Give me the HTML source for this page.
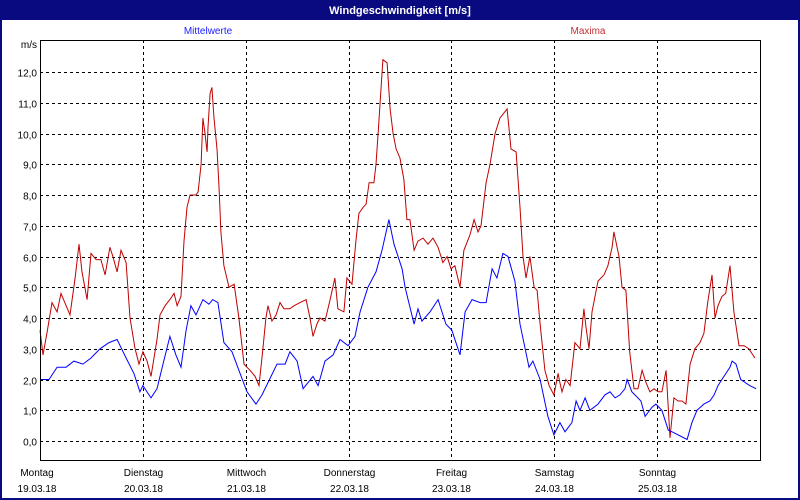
<!DOCTYPE html>
<html><head><meta charset="utf-8"><style>
html,body{margin:0;padding:0;background:#fff;}
svg{display:block;font-family:"Liberation Sans",sans-serif;}
</style></head><body>
<svg width="800" height="500" id="chart">
<rect x="1" y="1" width="798" height="498" fill="#fff" stroke="#0a0a80" stroke-width="2"/>
<rect x="0" y="0" width="800" height="20" fill="#0a0a80"/>
<text x="400" y="14" text-anchor="middle" fill="#fff" font-size="11" font-weight="bold">Windgeschwindigkeit [m/s]</text>
<text x="208" y="34" text-anchor="middle" fill="#2020ff" font-size="10">Mittelwerte</text>
<text x="588" y="34" text-anchor="middle" fill="#c03030" font-size="10">Maxima</text>
<text x="37" y="48" text-anchor="end" fill="#000" font-size="10">m/s</text>
<g id="grid"></g>
<g id="series"></g>
<rect x="40.5" y="40.5" width="720" height="420" fill="none" stroke="#000" stroke-width="1"/>
<g id="labels"></g>
</svg>
<script>
const yTicks=[0,1,2,3,4,5,6,7,8,9,10,11,12];
const dayNames=["Montag","Dienstag","Mittwoch","Donnerstag","Freitag","Samstag","Sonntag"];
const dayDates=["19.03.18","20.03.18","21.03.18","22.03.18","23.03.18","24.03.18","25.03.18"];
const meanHours=[0,2.1,4.0,6.1,7.9,10.0,11.9,14.0,16.1,18.0,20.1,21.9,23.3,24.0,25.9,27.3,28.7,30.3,31.7,32.9,34.1,35.2,36.4,38.0,39.4,40.3,41.5,42.9,44.8,46.4,48.3,50.4,51.8,53.2,55.3,57.2,58.3,60.0,61.4,63.7,64.9,66.5,68.4,70.0,71.9,73.5,74.7,76.5,78.4,79.8,81.4,82.6,84.5,85.2,85.9,87.3,88.2,89.1,91.0,92.9,94.7,96.1,98.0,99.2,100.8,102.7,104.1,105.5,106.6,108.0,109.2,110.8,112.0,114.1,115.0,116.7,118.5,119.9,121.3,122.5,124.1,125.1,126.0,127.2,128.3,130.2,131.8,133.0,134.2,135.3,136.5,137.0,138.1,140.2,141.2,142.8,143.7,145.1,146.6,147.5,151.0,152.1,153.3,154.9,156.3,157.3,158.2,159.1,161.0,161.5,162.4,163.5,165.6,167.1];
const meanValues=[2.0,2.0,2.4,2.4,2.6,2.5,2.7,3.0,3.2,3.3,2.7,2.2,1.6,1.8,1.4,1.7,2.5,3.4,2.8,2.4,3.6,4.4,4.1,4.6,4.45,4.6,4.5,3.2,2.9,2.3,1.6,1.2,1.5,1.9,2.5,2.5,2.9,2.6,1.7,2.1,1.8,2.6,2.8,3.3,3.1,3.4,4.2,5.0,5.5,6.2,7.2,6.4,5.6,5.0,4.6,3.8,4.3,3.9,4.2,4.6,3.8,3.6,2.8,4.2,4.6,4.5,4.5,5.6,5.3,6.1,6.0,5.2,3.8,2.4,2.6,2.0,0.8,0.2,0.6,0.3,0.6,1.3,1.0,1.4,1.0,1.2,1.5,1.6,1.4,1.5,1.7,2.0,1.6,1.3,0.8,1.1,1.2,1.0,0.35,0.3,0.05,0.6,1.0,1.2,1.3,1.5,1.8,2.0,2.4,2.6,2.5,2.0,1.8,1.7];
const maxHours=[0,0.7,1.6,2.8,4.0,4.9,6.1,7.0,8.2,9.1,9.8,11.0,11.9,13.1,14.2,15.2,16.3,17.0,18.0,18.9,20.1,21.0,22.2,23.1,24.0,25.0,25.9,27.3,28.0,29.2,30.3,31.3,32.0,32.9,33.6,34.3,35.0,36.4,36.9,37.6,38.0,38.5,39.0,39.2,39.7,40.1,40.6,41.3,41.8,42.2,42.9,44.1,45.3,46.4,47.6,49.0,50.2,51.1,52.0,52.7,53.2,54.1,55.1,56.0,56.9,58.3,59.3,60.7,62.1,63.0,63.7,64.6,65.3,66.5,67.7,68.8,69.5,70.9,71.6,72.8,73.7,74.4,75.4,76.1,76.8,77.9,78.4,78.9,79.6,80.0,81.0,81.7,82.4,83.1,84.0,84.9,85.6,86.3,87.3,88.2,89.4,90.5,91.7,92.9,94.0,95.0,95.9,96.8,98.0,98.9,100.3,101.3,102.2,102.9,104.1,105.0,106.2,107.3,109.0,109.9,111.1,112.0,112.7,113.4,114.3,115.3,116.0,116.7,117.8,118.8,119.9,120.9,121.3,121.8,122.7,123.7,124.8,126.0,126.9,127.4,128.1,128.8,130.2,131.6,132.5,133.5,133.9,135.1,135.8,136.7,137.6,138.6,139.5,140.5,141.4,142.3,143.3,144.2,145.1,146.1,147.0,147.9,148.9,149.8,150.7,151.7,152.8,154.0,154.9,155.8,156.8,157.5,158.2,159.1,160.0,161.0,161.9,163.1,164.3,165.4,166.8];
const maxValues=[3.6,2.8,3.5,4.5,4.2,4.8,4.4,4.1,5.3,6.4,5.5,4.6,6.1,5.9,5.9,5.4,6.3,6.0,5.5,6.2,5.8,4.0,3.0,2.5,2.9,2.6,2.1,3.3,4.1,4.4,4.6,4.8,4.4,4.7,6.5,7.6,8.0,8.0,8.1,9.0,10.5,10.0,9.4,10.2,11.3,11.5,10.5,9.5,8.2,6.8,5.7,5.0,5.1,4.0,2.5,2.3,2.1,1.8,3.0,4.0,4.4,3.9,4.1,4.5,4.3,4.3,4.4,4.5,4.6,4.0,3.4,3.8,4.0,3.9,4.6,5.3,4.3,4.2,5.3,5.1,6.5,7.4,7.6,7.7,8.4,8.4,9.0,10.0,11.5,12.4,12.3,10.8,10.0,9.5,9.2,8.5,7.2,7.2,6.2,6.5,6.6,6.4,6.6,6.3,5.8,6.0,5.6,5.7,5.0,6.2,6.7,7.2,6.8,7.0,8.4,9.0,10.0,10.5,10.8,9.5,9.4,7.6,6.0,5.3,6.0,5.0,4.9,3.8,2.3,1.8,1.5,2.2,1.9,1.6,2.0,1.8,3.2,3.0,4.3,3.7,3.0,4.2,5.2,5.4,5.7,6.3,6.8,6.0,5.0,4.9,2.9,1.7,1.7,2.3,1.9,1.6,1.7,1.6,1.6,2.3,0.1,1.4,1.3,1.3,1.2,2.5,3.0,3.2,3.5,4.5,5.4,4.0,4.4,4.7,4.8,5.7,4.2,3.1,3.1,3.0,2.7];

const NS="http://www.w3.org/2000/svg";
const X0=40,X1=760,YZ=441,YU=30.75;
function xScale(h){return X0+h*(X1-X0)/168;}
function yScale(v){return YZ-v*YU;}
function mk(tag,attrs,parent){const e=document.createElementNS(NS,tag);for(const k in attrs)e.setAttribute(k,attrs[k]);parent.appendChild(e);return e;}
const grid=document.getElementById('grid'),series=document.getElementById('series'),labels=document.getElementById('labels');
yTicks.forEach(t=>{
  const y=Math.round(yScale(t))+0.5;
  const l=mk('line',{x1:X0,x2:X1,y1:y,y2:y,stroke:'#000','stroke-dasharray':'3,3'},grid);
  
  
  const tx=mk('text',{x:37,y:y+4,'text-anchor':'end','font-size':'10',fill:'#000'},labels);
  tx.textContent=t.toFixed(1).replace('.',',');
  
  
});
dayNames.forEach((d,i)=>{
  const x=Math.round(xScale(i*24))+0.5;
  if(i>0){
    const l=mk('line',{x1:x,x2:x,y1:40,y2:460,stroke:'#000','stroke-dasharray':'3,3'},grid);
    
    
  }
  const cx=i===0?37:x;
  const t1=mk('text',{x:cx,y:476,'text-anchor':'middle','font-size':'10',fill:'#000'},labels);
  t1.textContent=d;
  
  
  const t2=mk('text',{x:cx,y:492,'text-anchor':'middle','font-size':'10',fill:'#000'},labels);
  t2.textContent=dayDates[i];
  
  
});
function line(hours,vals,color,name){
  const pts=hours.map((h,i)=>xScale(h).toFixed(1)+','+yScale(vals[i]).toFixed(1)).join(' ');
  const p=mk('polyline',{points:pts,fill:'none',stroke:color,'stroke-width':'1'},series);
  
  
}
line(maxHours,maxValues,'#c00000','maxima-line');
line(meanHours,meanValues,'#0000ff','mittelwerte-line');
</script>
</body></html>
